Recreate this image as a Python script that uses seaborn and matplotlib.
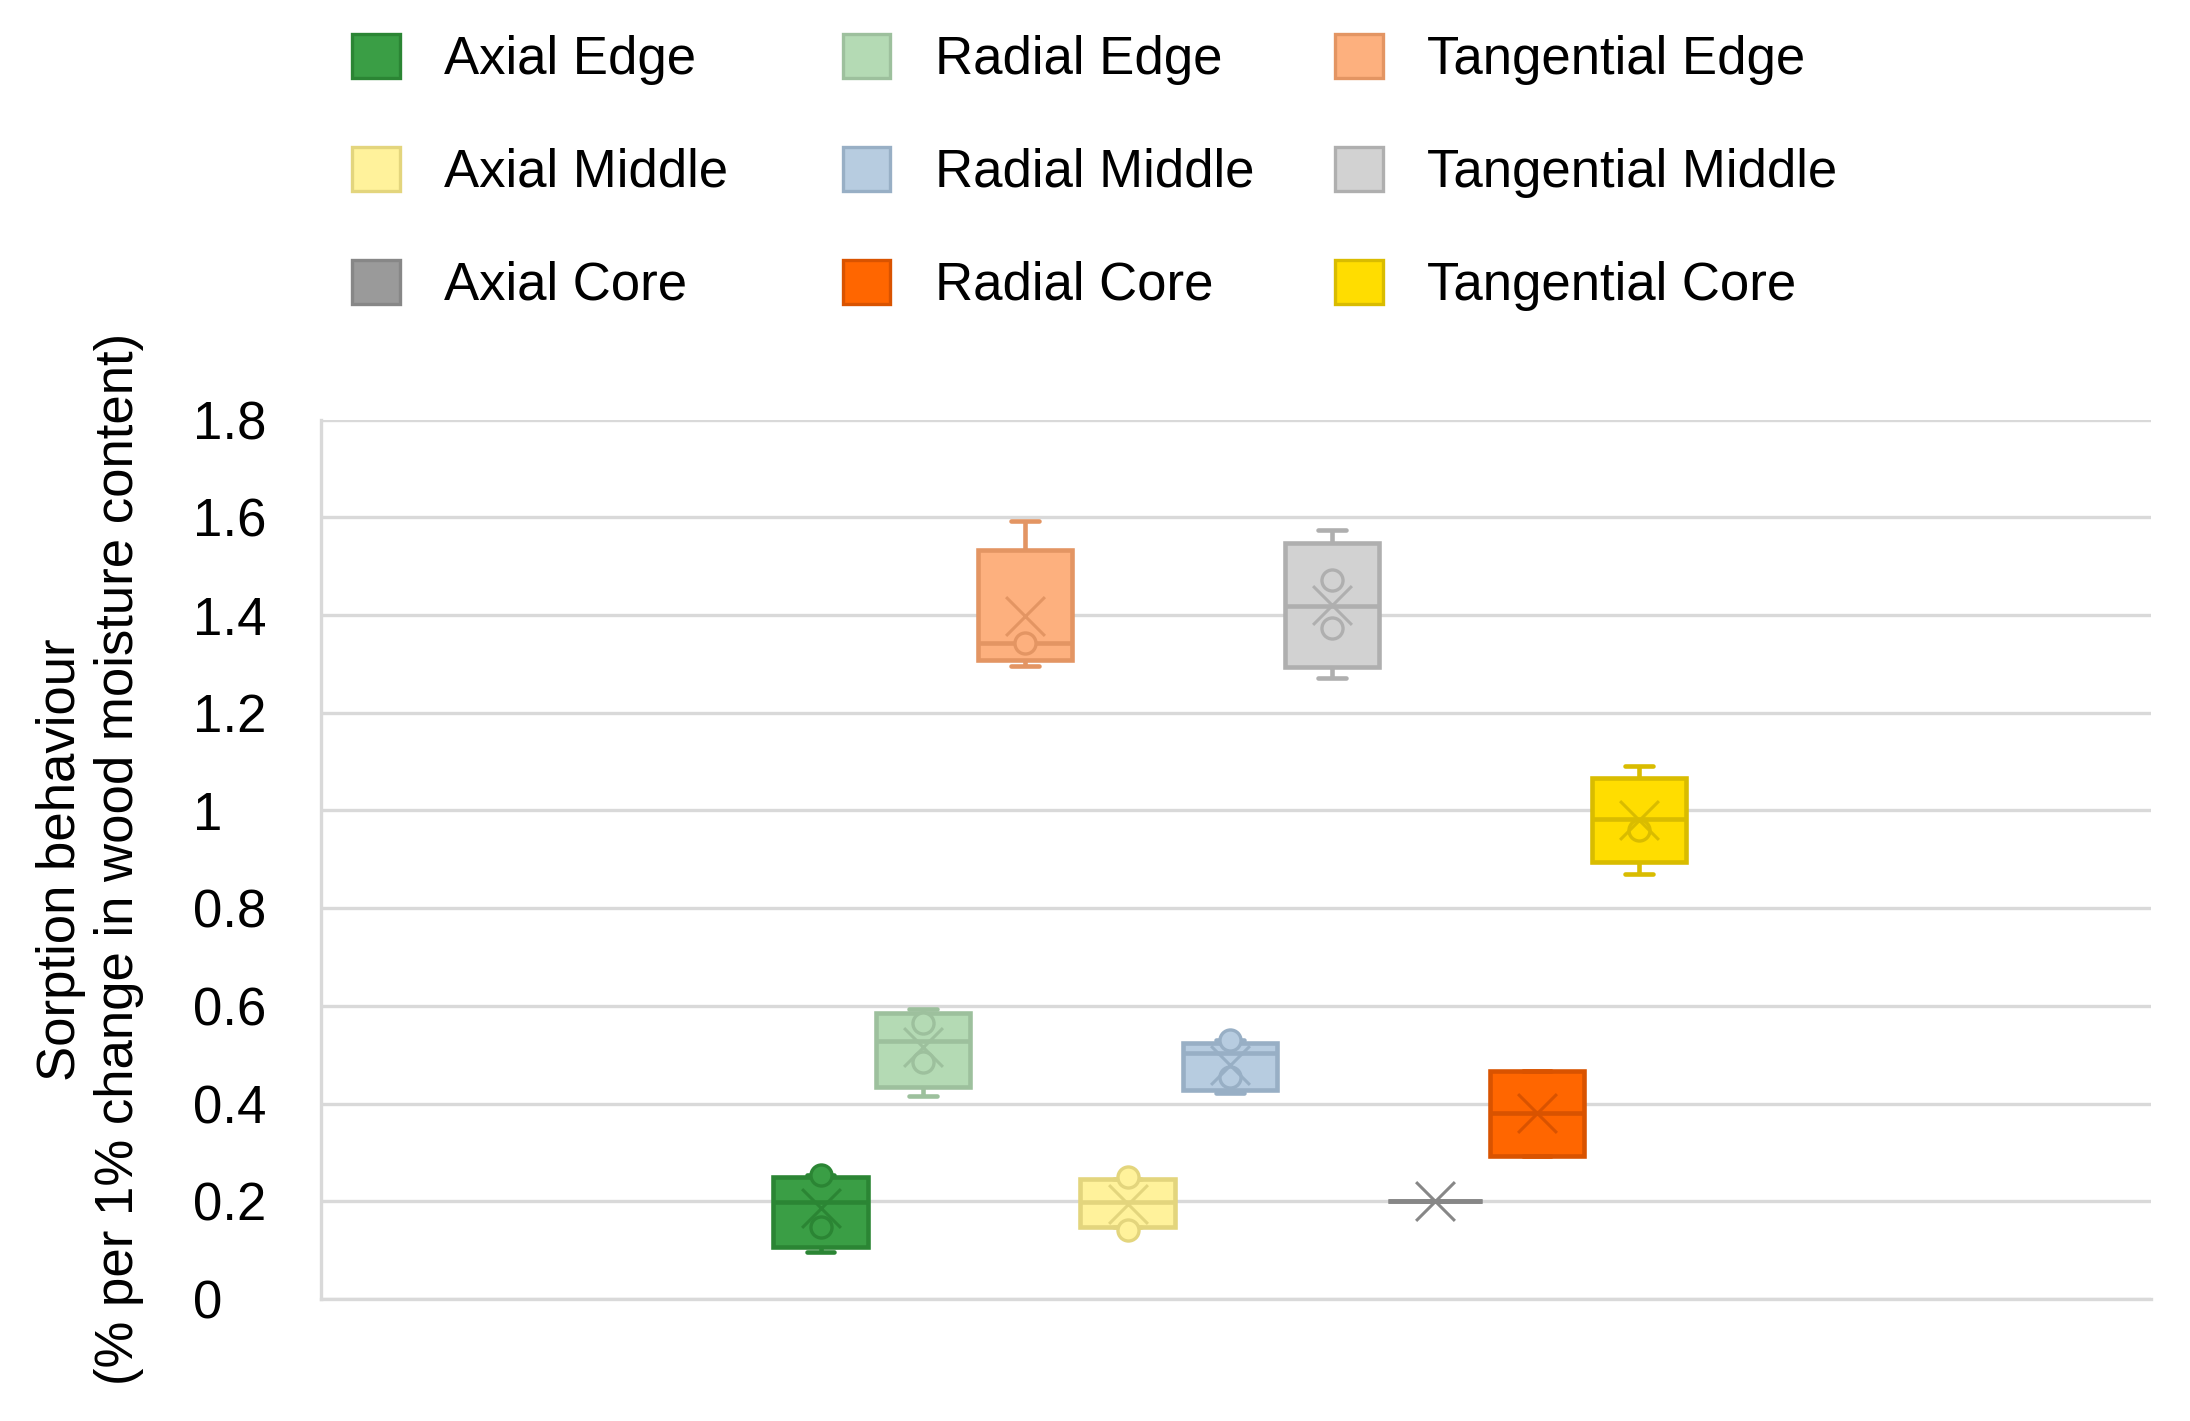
import numpy as np
import pandas as pd
import matplotlib
matplotlib.use('Agg')
import matplotlib.pyplot as plt
from matplotlib.patches import Patch
import seaborn as sns

# Series, in the order the boxes stand from left to right
series = ['Axial Edge', 'Radial Edge', 'Tangential Edge',
          'Axial Middle', 'Radial Middle', 'Tangential Middle',
          'Axial Core', 'Radial Core', 'Tangential Core']

# Box statistics
whisker_low = [0.097, 0.416, 1.296, 0.148, 0.421, 1.271, 0.200, 0.293, 0.870]
q1 = [0.106, 0.433, 1.308, 0.148, 0.428, 1.294, 0.200, 0.293, 0.895]
median = [0.199, 0.529, 1.342, 0.198, 0.503, 1.419, 0.200, 0.380, 0.982]
q3 = [0.249, 0.586, 1.533, 0.245, 0.523, 1.548, 0.200, 0.467, 1.066]
whisker_high = [0.254, 0.593, 1.593, 0.245, 0.530, 1.574, 0.200, 0.467, 1.090]
means = [0.186, 0.516, 1.397, 0.195, 0.479, 1.420, 0.200, 0.380, 0.980]

# Inner points (circles)
inner_points = {
    'Axial Edge': [0.254, 0.147],
    'Radial Edge': [0.564, 0.486],
    'Tangential Edge': [1.342],
    'Axial Middle': [0.250, 0.141],
    'Radial Middle': [0.530, 0.455],
    'Tangential Middle': [1.472, 1.373],
    'Axial Core': [],
    'Radial Core': [],
    'Tangential Core': [0.960],
}

fill_colors = ['#3A9E45', '#B4DAB4', '#FDB07E',
               '#FFF29B', '#B7CCE0', '#D2D2D2',
               '#9A9A9A', '#FF6600', '#FFDD00']
edge_colors = ['#2B8534', '#9DC09D', '#E39563',
               '#E3D57D', '#98AFC5', '#AFAFAF',
               '#878787', '#D95300', '#D9BC00']

ytick_values = [0, 0.2, 0.4, 0.6, 0.8, 1.0, 1.2, 1.4, 1.6, 1.8]
ytick_labels = ['0', '0.2', '0.4', '0.6', '0.8', '1', '1.2', '1.4', '1.6', '1.8']

ylabel = 'Sorption behaviour\n(% per 1% change in wood moisture content)'

# long table: five numbers per series give the box exactly
rows = []
for i, name in enumerate(series):
    for v in [whisker_low[i], q1[i], median[i], q3[i], whisker_high[i]]:
        rows.append({'pos': i, 'series': name, 'value': v})
df = pd.DataFrame(rows)

sns.set_theme(style='white')
plt.rcParams['font.family'] = ['Liberation Sans', 'DejaVu Sans']
plt.rcParams['text.color'] = 'black'
FS = 38

fig = plt.figure(figsize=(21.9, 14.21), dpi=100)
ax = fig.add_axes([0.1466, 0.0859, 0.8356, 0.6188])

for i, name in enumerate(series):
    sub = df[df['series'] == name]
    sns.boxplot(data=sub, x='pos', y='value', native_scale=True, width=0.92,
                whis=(0, 100), color=fill_colors[i], linecolor=edge_colors[i],
                linewidth=3.3, saturation=1, showfliers=False, capwidths=0.27,
                ax=ax, zorder=3)

    pts = inner_points[name]
    if pts:
        sns.scatterplot(x=[i] * len(pts), y=pts, marker='o', s=230,
                        color=fill_colors[i], edgecolor=edge_colors[i],
                        linewidth=2.4, ax=ax, zorder=4, legend=False)
    sns.scatterplot(x=[i], y=[means[i]], marker='x', s=780,
                    color=edge_colors[i], linewidth=2.2, ax=ax,
                    zorder=5, legend=False)

ax.set_xlim(-4.88, 13.0)
ax.set_ylim(0, 1.8)
ax.set_xticks([])
ax.set_xlabel('')
ax.set_yticks(ytick_values)
ax.set_yticklabels(ytick_labels)
ax.tick_params(axis='y', length=0, pad=92, labelsize=FS, labelcolor='black')
for lab in ax.get_yticklabels():
    lab.set_horizontalalignment('left')

ax.yaxis.grid(True, color='#D9D9D9', linewidth=2.4, zorder=0)
ax.set_axisbelow(True)
for side in ['top', 'right']:
    ax.spines[side].set_visible(False)
for side in ['left', 'bottom']:
    ax.spines[side].set_color('#D9D9D9')
    ax.spines[side].set_linewidth(2.4)

ax.set_ylabel(ylabel, fontsize=FS, color='black', linespacing=1.2)
ax.yaxis.set_label_coords(-0.097, 0.5)

# legend, one column per direction
col_x = [352 / 2190, 843 / 2190, 1335 / 2190]
for c in range(3):
    idx = [c, c + 3, c + 6]
    handles = [Patch(facecolor=fill_colors[k], edgecolor=edge_colors[k],
                     linewidth=2.4, label=series[k]) for k in idx]
    fig.legend(handles=handles, loc='upper left',
               bbox_to_anchor=(col_x[c], 1 - 34 / 1421), frameon=False,
               fontsize=FS, handlelength=0.9, handleheight=0.9,
               handletextpad=0.85, labelspacing=1.17, borderpad=0,
               borderaxespad=0, labelcolor='black')

fig.savefig('out.png', dpi=100)
